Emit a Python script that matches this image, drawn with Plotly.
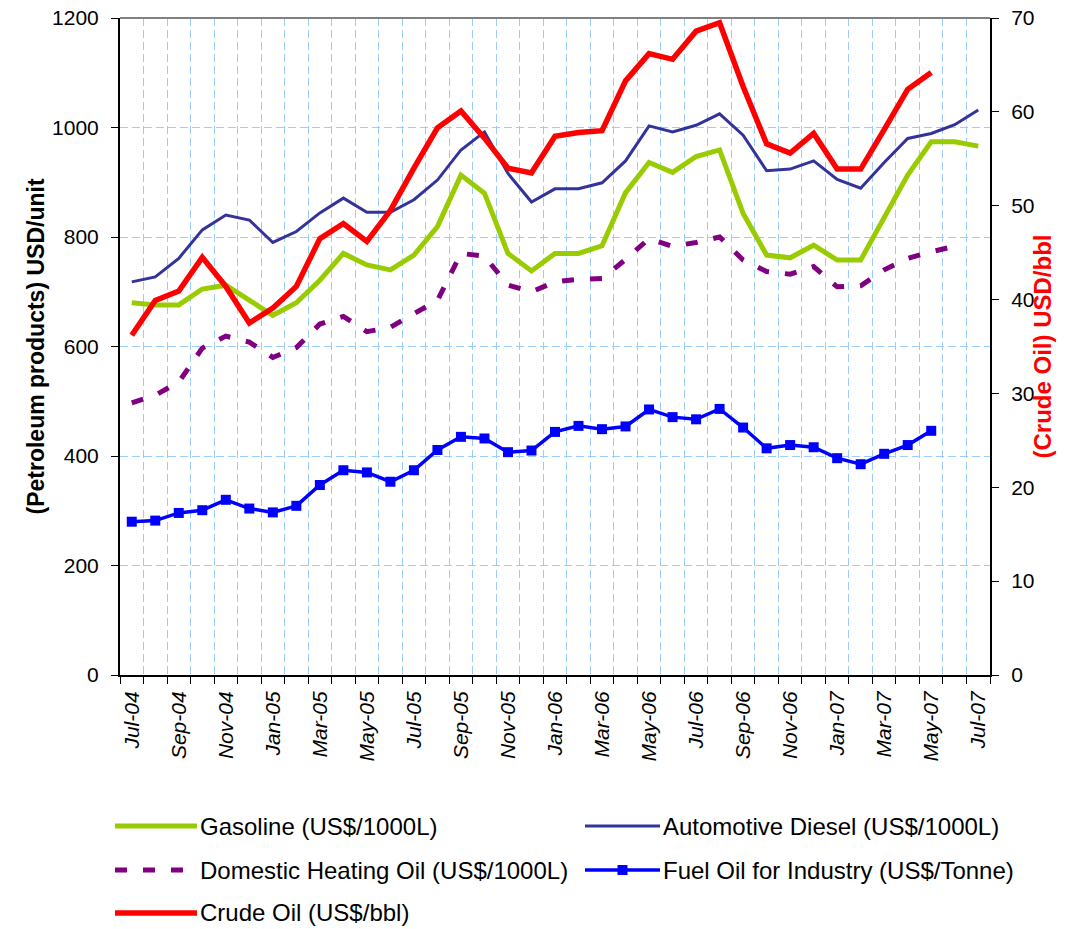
import plotly.graph_objects as go

months = ["Jul-04", "Aug-04", "Sep-04", "Oct-04", "Nov-04", "Dec-04",
          "Jan-05", "Feb-05", "Mar-05", "Apr-05", "May-05", "Jun-05",
          "Jul-05", "Aug-05", "Sep-05", "Oct-05", "Nov-05", "Dec-05",
          "Jan-06", "Feb-06", "Mar-06", "Apr-06", "May-06", "Jun-06",
          "Jul-06", "Aug-06", "Sep-06", "Oct-06", "Nov-06", "Dec-06",
          "Jan-07", "Feb-07", "Mar-07", "Apr-07", "May-07", "Jun-07", "Jul-07"]

gasoline = [680, 676, 676, 705, 712, 685, 657, 680, 721, 770, 749, 740,
            767, 819, 913, 880, 770, 738, 770, 770, 784, 881, 936, 918,
            947, 959, 843, 767, 762, 785, 758, 758, 834, 913, 974, 974, 966]

diesel = [718, 727, 761, 813, 840, 831, 790, 810, 844, 871, 845, 845,
          868, 904, 959, 992, 916, 864, 888, 888, 899, 939, 1003, 992,
          1004, 1025, 986, 921, 924, 939, 905, 889, 936, 980, 989, 1005, 1032]

heating = [497, 511, 535, 597, 619, 608, 580, 598, 641, 655, 627, 635,
           660, 684, 770, 765, 712, 700, 718, 723, 724, 759, 797, 783,
           790, 800, 758, 737, 732, 746, 709, 711, 740, 761, 773, 783, None]

fuel_oil = [280, 282, 296, 301, 320, 304, 297, 309, 347, 374, 370, 353,
            374, 411, 435, 432, 407, 410, 444, 455, 449, 454, 485, 471,
            467, 486, 452, 414, 420, 416, 396, 385, 404, 420, 446, None, None]

crude = [36.2, 39.9, 40.9, 44.5, 41.4, 37.5, 39.1, 41.4, 46.5, 48.1, 46.2, 49.5,
         54.0, 58.3, 60.1, 57.2, 54.0, 53.5, 57.4, 57.8, 58.0, 63.3, 66.2, 65.6,
         68.6, 69.5, 62.7, 56.6, 55.6, 57.7, 53.9, 53.9, 58.1, 62.4, 64.2, None, None]

names = ["Gasoline (US$/1000L)", "Automotive Diesel (US$/1000L)",
         "Domestic Heating Oil (US$/1000L)", "Fuel Oil for Industry (US$/Tonne)",
         "Crude Oil (US$/bbl)"]

FONT = "Arial, 'Liberation Sans', sans-serif"
x = list(range(len(months)))

fig = go.Figure()
fig.add_trace(go.Scatter(x=x, y=gasoline, name=names[0], mode="lines",
                         line=dict(color="#99CC00", width=5)))
fig.add_trace(go.Scatter(x=x, y=diesel, name=names[1], mode="lines",
                         line=dict(color="#333399", width=3)))
fig.add_trace(go.Scatter(x=x, y=heating, name=names[2], mode="lines",
                         line=dict(color="#800080", width=5, dash="12px,16px")))
fig.add_trace(go.Scatter(x=x, y=fuel_oil, name=names[3], mode="lines+markers",
                         line=dict(color="#0000FF", width=3.5),
                         marker=dict(symbol="square", size=10, color="#0000FF")))
fig.add_trace(go.Scatter(x=x, y=crude, name=names[4], mode="lines", yaxis="y2",
                         line=dict(color="#FF0000", width=5.5)))

W, H = 1077, 929
# desired plot area in screen pixels (page body margin removed via post_script)
SX0, SX1, SY0, SY1 = 120, 990, 18, 675
L, T, R, B = SX0, SY0, W - SX1, H - SY1
pw, ph = SX1 - SX0, SY1 - SY0

def px(xs):
    return (xs - SX0) / pw

def py(ys):
    return (SY1 - ys) / ph

fig.update_layout(
    width=W, height=H,
    margin=dict(l=L, r=R, t=T, b=B),
    paper_bgcolor="white", plot_bgcolor="white",
    showlegend=False,
    font=dict(family=FONT, color="black", size=21),
    xaxis=dict(
        range=[-0.5, len(months) - 0.5],
        tickmode="array",
        tickvals=x[::2], ticktext=months[::2],
        tickangle=-90,
        tickfont=dict(size=21, style="italic", family=FONT),
        ticks="", showgrid=False, zeroline=False,
        showline=True, linecolor="black", linewidth=2,
        ticklabelstandoff=6, automargin=False,
        minor=dict(tickmode="linear", tick0=-0.5, dtick=1, ticks="outside",
                   ticklen=7, tickcolor="black", showgrid=True,
                   gridcolor="#99CCFF", griddash="8px,4px", gridwidth=1),
    ),
    yaxis=dict(
        range=[0, 1200], dtick=200, tickmode="linear",
        ticks="outside", ticklen=7, tickcolor="black",
        showline=True, linecolor="black", linewidth=2,
        showgrid=True, gridcolor="#99CCFF", griddash="8px,4px", gridwidth=1,
        zeroline=False, tickfont=dict(size=21, family=FONT),
        ticklabelstandoff=8, ticklabeloverflow="allow", automargin=False,
    ),
    yaxis2=dict(
        range=[0, 70], dtick=10, tickmode="linear", overlaying="y", side="right",
        ticks="outside", ticklen=7, tickcolor="black",
        showline=True, linecolor="black", linewidth=2,
        showgrid=False, zeroline=False, tickfont=dict(size=21, family=FONT),
        ticklabelstandoff=8, ticklabeloverflow="allow", automargin=False,
    ),
)

# top border
fig.add_shape(type="line", xref="paper", yref="paper", x0=0, x1=1, y0=1, y1=1,
              line=dict(color="#808080", width=2))

# axis titles
fig.add_annotation(text="<b>(Petroleum products) USD/unit</b>", xref="paper", yref="paper",
                   x=px(35), y=0.5, textangle=-90, showarrow=False,
                   font=dict(size=23, color="black", family=FONT),
                   xanchor="center", yanchor="middle")
fig.add_annotation(text="<b>(Crude Oil) USD/bbl</b>", xref="paper", yref="paper",
                   x=px(1042), y=0.5, textangle=-90, showarrow=False,
                   font=dict(size=24, color="#FF0000", family=FONT),
                   xanchor="center", yanchor="middle")

# custom legend
leg_items = [
    (names[0], "#99CC00", 5, "solid", False, 115, 197, 826),
    (names[1], "#333399", 3, "solid", False, 585, 660, 826),
    (names[2], "#800080", 5, "12px,16px", False, 115, 197, 870),
    (names[3], "#0000FF", 3.5, "solid", True, 585, 660, 870),
    (names[4], "#FF0000", 5.5, "solid", False, 115, 197, 913),
]
for name, color, width, dash, marker, x0, x1, yy in leg_items:
    fig.add_shape(type="line", xref="paper", yref="paper",
                  x0=px(x0), x1=px(x1), y0=py(yy), y1=py(yy),
                  line=dict(color=color, width=width, dash=dash))
    if marker:
        xm = (x0 + x1) / 2
        fig.add_shape(type="rect", xref="paper", yref="paper",
                      x0=px(xm - 5), x1=px(xm + 5), y0=py(yy + 5), y1=py(yy - 5),
                      line=dict(width=0), fillcolor=color)
    fig.add_annotation(text=name, xref="paper", yref="paper",
                       x=px(x1 + 1), y=py(yy), xanchor="left", yanchor="middle",
                       showarrow=False, font=dict(size=24, color="black", family=FONT))

fig.write_html("out.html",
               config={"displayModeBar": False},
               post_script="document.body.style.margin='0';document.body.style.overflow='hidden';")
